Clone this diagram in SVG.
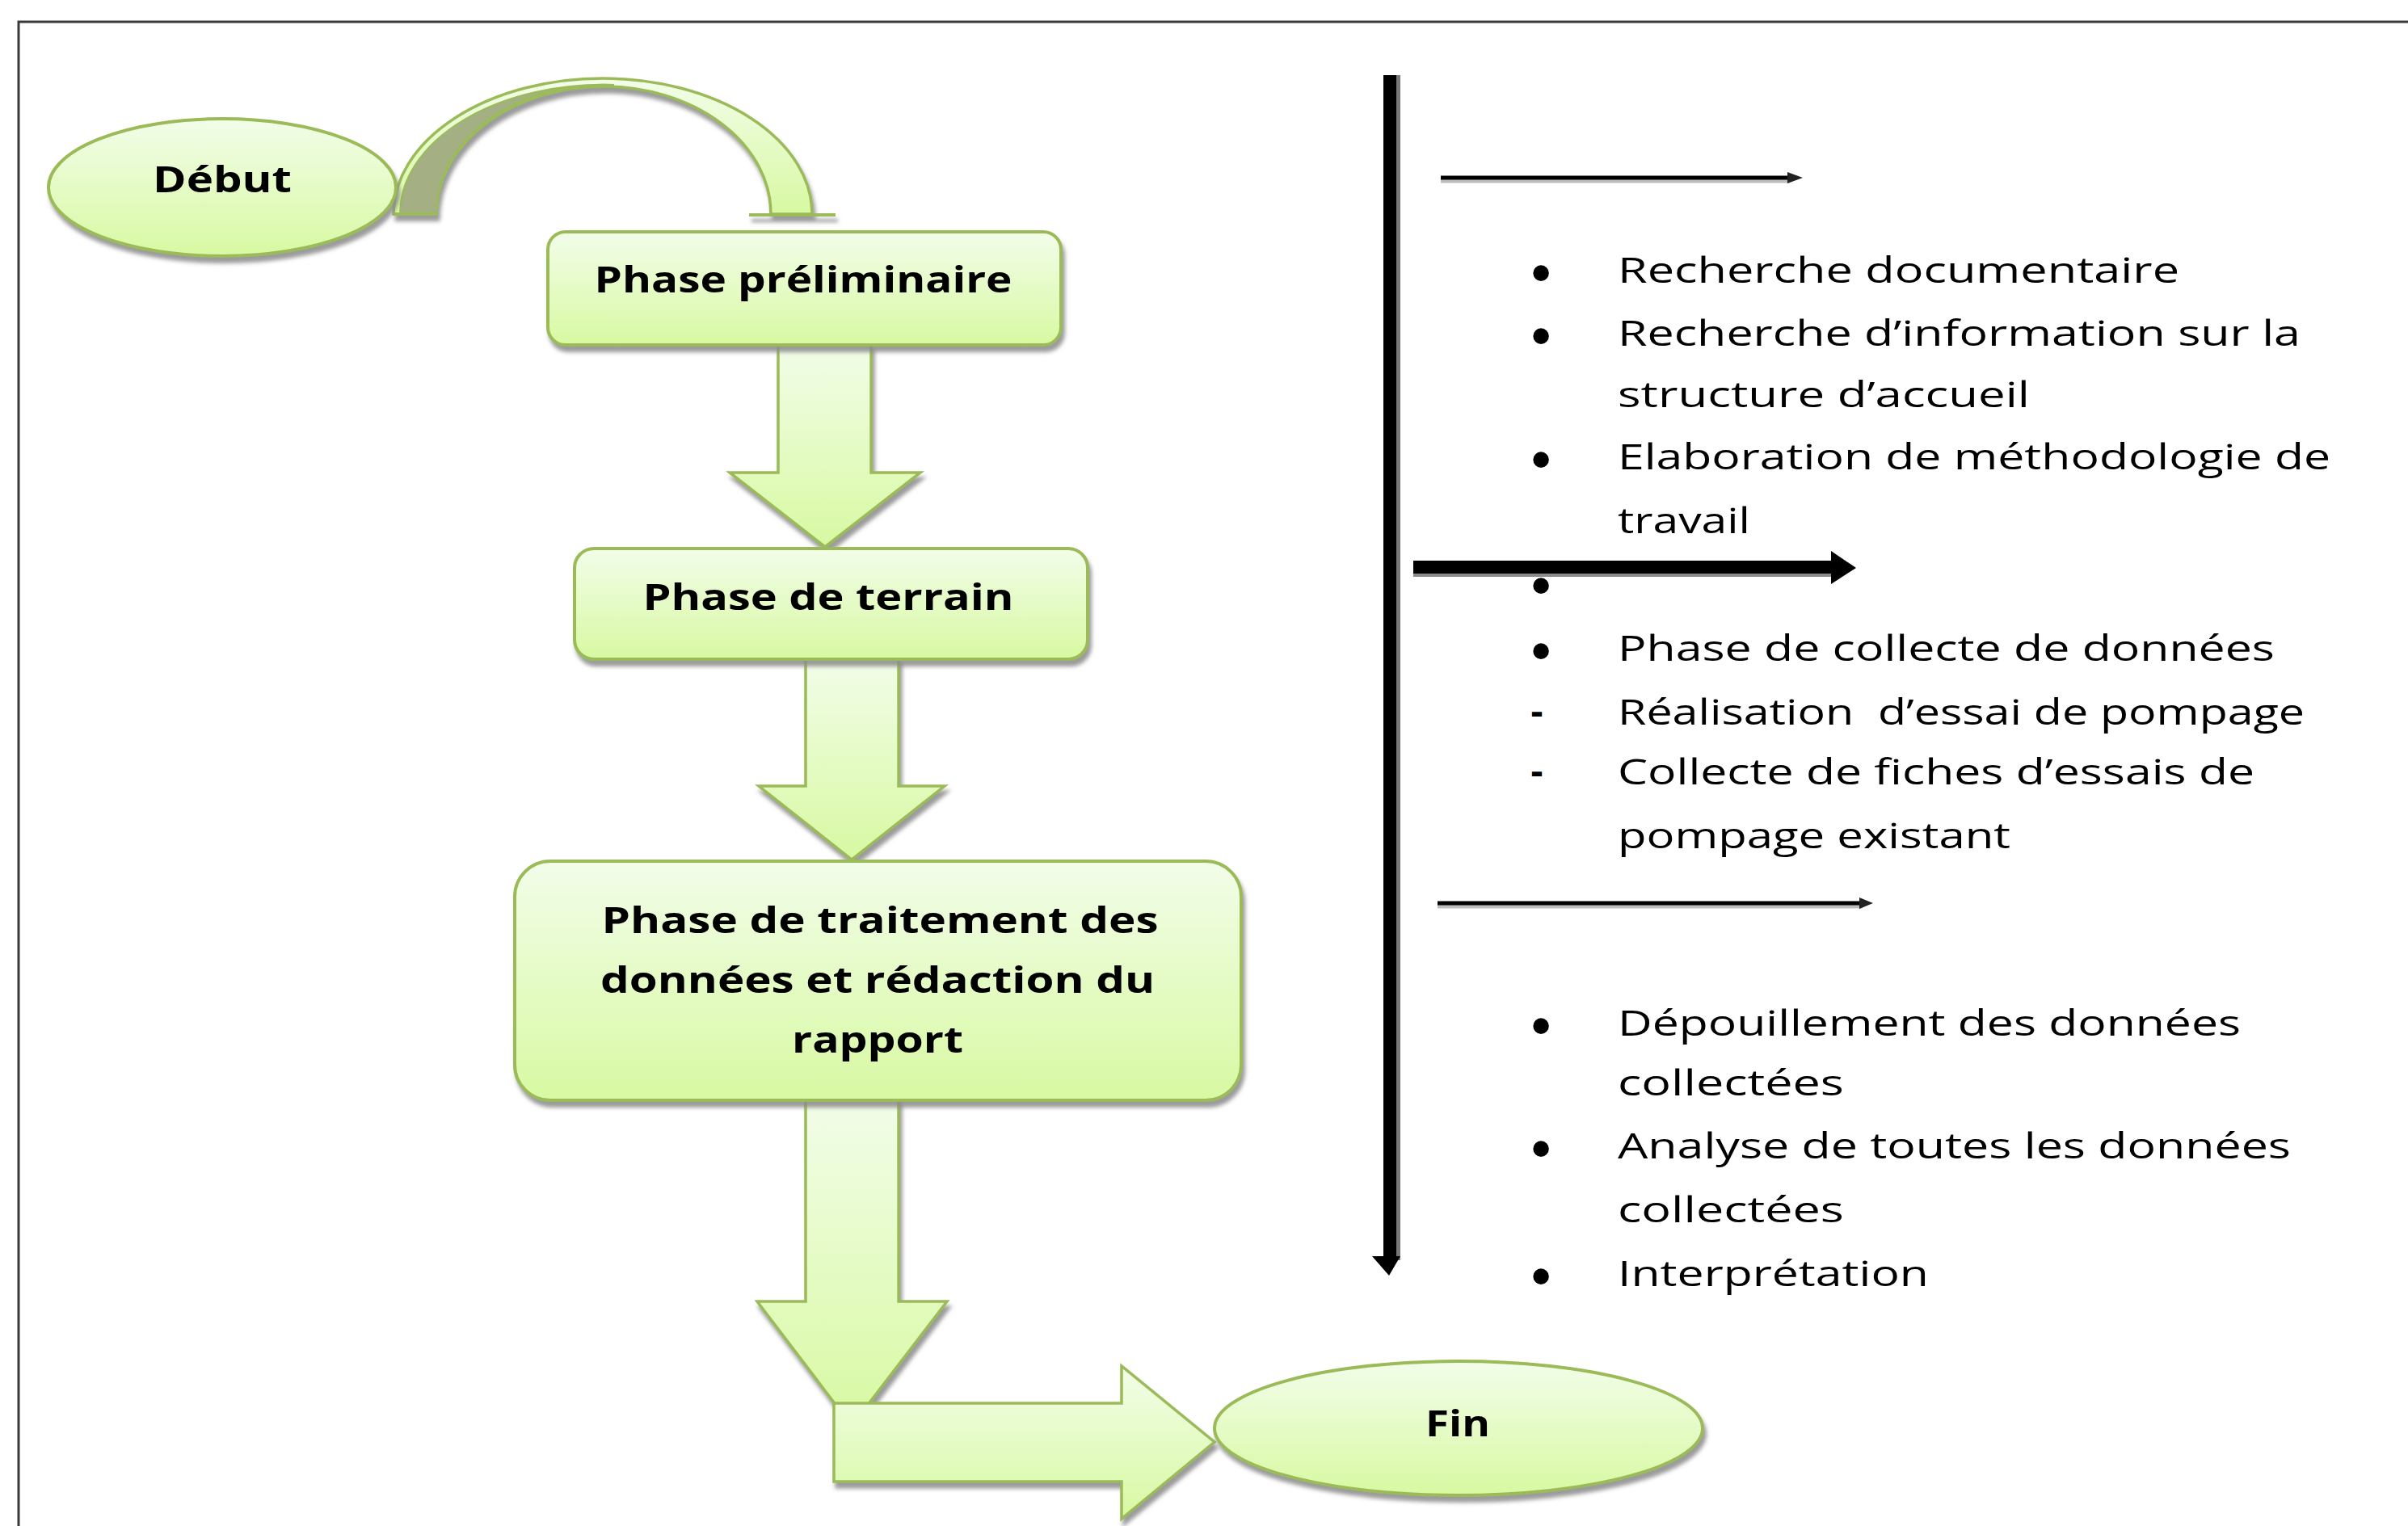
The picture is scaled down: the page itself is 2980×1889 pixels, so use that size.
<svg xmlns="http://www.w3.org/2000/svg" width="2980" height="1889" viewBox="0 0 2980 1889">
<defs>
<linearGradient id="gr" x1="0" y1="0" x2="0" y2="1">
<stop offset="0" stop-color="#f2fde9"/>
<stop offset="1" stop-color="#d8f9a2"/>
</linearGradient>
<filter id="sh" x="-10%" y="-10%" width="120%" height="130%">
<feDropShadow dx="3" dy="7" stdDeviation="2.5" flood-color="#8a8a8a" flood-opacity="0.85"/>
</filter>
</defs>
<style>
.g{fill:url(#gr);stroke:#9bbb59;stroke-width:4}
.ga{fill:url(#gr);stroke:#9bbb59;stroke-width:3.5}
.bt{font-family:"Open Sans","Liberation Sans",sans-serif;font-weight:700;font-size:45px;fill:#000;text-anchor:middle}
.lt{font-family:"Open Sans","Liberation Sans",sans-serif;font-weight:400;font-size:43px;fill:#000;white-space:pre}
.bu{font-family:"Liberation Sans",sans-serif;font-size:72px;fill:#000;text-anchor:middle}
.da{font-family:"Liberation Sans",sans-serif;font-weight:700;font-size:48px;fill:#000;text-anchor:middle}
.k{stroke:#000;fill:none}
</style>
<rect x="0" y="0" width="2980" height="1889" fill="#fff"/>
<path d="M23,1889 L23,27 L2980,27" fill="none" stroke="#3a3a3a" stroke-width="3"/>

<g id="connectors">
<g filter="url(#sh)">
<path class="ga" d="M963,426 L1078,426 L1078,585 L1139,585 L1021,677 L903,585 L963,585 Z"/>
<path class="ga" d="M997,814 L1112,814 L1112,973 L1169,973 L1054,1064 L939,973 L997,973 Z"/>
<path class="ga" d="M997,1359 L1112,1359 L1112,1611 L1172,1611 L1054,1765 L937,1611 L997,1611 Z"/>
<path class="ga" d="M1032,1737 L1388,1737 L1388,1691 L1503,1785 L1388,1880 L1388,1834 L1032,1834 Z"/>
</g>
<g id="arc" filter="url(#sh)">
<path class="ga" d="M487,265 A259,168 0 0 1 1005,265 L954,265 A207,158 0 0 0 540,265 Z"/>
<path d="M495,265 A252,160 0 0 1 760,105 A207,158 0 0 0 540,265 Z" fill="#a4b083" stroke="#9bbb59" stroke-width="2"/>
<line x1="487" y1="265" x2="540" y2="265" stroke="#9bbb59" stroke-width="4"/>
<line x1="927" y1="266" x2="1034" y2="266" stroke="#9bbb59" stroke-width="4"/>
</g>
<g id="timeline">
<line x1="1723" y1="93" x2="1723" y2="1560" stroke="#777" stroke-width="20"/>
<line x1="1720" y1="93" x2="1720" y2="1560" class="k" stroke-width="16"/>
<polygon points="1698,1555 1733,1555 1719,1579" fill="#000"/>
<line x1="1783" y1="223" x2="2215" y2="223" stroke="#bdbdbd" stroke-width="7"/>
<line x1="1783" y1="220" x2="2222" y2="220" class="k" stroke-width="5"/>
<polygon points="2212,213 2231,220 2212,227" fill="#222"/>
<line x1="1779" y1="1121" x2="2305" y2="1121" stroke="#bdbdbd" stroke-width="7"/>
<line x1="1779" y1="1118" x2="2310" y2="1118" class="k" stroke-width="5"/>
<polygon points="2301,1111 2318,1118 2301,1125" fill="#222"/>
</g>
</g>

<g id="debut" filter="url(#sh)">
<ellipse class="g" cx="275" cy="232" rx="215" ry="85"/>
<text class="bt" x="275" y="238" textLength="172" lengthAdjust="spacingAndGlyphs">Début</text>
</g>
<g id="phase-preliminaire">
<rect class="g" x="678" y="287" width="635" height="140" rx="22" filter="url(#sh)"/>
<text class="bt" x="994" y="362" textLength="517" lengthAdjust="spacingAndGlyphs">Phase préliminaire</text>
</g>
<g id="phase-terrain">
<rect class="g" x="711" y="679" width="635" height="137" rx="24" filter="url(#sh)"/>
<text class="bt" x="1025" y="755" textLength="459" lengthAdjust="spacingAndGlyphs">Phase de terrain</text>
</g>
<g id="phase-traitement">
<rect class="g" x="637" y="1066" width="899" height="296" rx="44" filter="url(#sh)"/>
<text class="bt" x="1089" y="1155" textLength="689" lengthAdjust="spacingAndGlyphs">Phase de traitement des</text>
<text class="bt" x="1086" y="1229" textLength="686" lengthAdjust="spacingAndGlyphs">données et rédaction du</text>
<text class="bt" x="1086" y="1303" textLength="212" lengthAdjust="spacingAndGlyphs">rapport</text>
</g>
<g id="fin">
<ellipse class="g" cx="1805" cy="1768" rx="302" ry="83" filter="url(#sh)"/>
<text class="bt" x="1804" y="1778" textLength="80" lengthAdjust="spacingAndGlyphs">Fin</text>
</g>

<g id="list-preliminaire">
<text class="bu" x="1907" y="362">•</text>
<text class="lt" x="2002" y="350" textLength="695" lengthAdjust="spacingAndGlyphs">Recherche documentaire</text>
<text class="bu" x="1907" y="440">•</text>
<text class="lt" x="2002" y="428" textLength="845" lengthAdjust="spacingAndGlyphs">Recherche d’information sur la</text>
<text class="lt" x="2002" y="504" textLength="510" lengthAdjust="spacingAndGlyphs">structure d’accueil</text>
<text class="bu" x="1907" y="593">•</text>
<text class="lt" x="2002" y="581" textLength="882" lengthAdjust="spacingAndGlyphs">Elaboration de méthodologie de</text>
<text class="lt" x="2002" y="660" textLength="164" lengthAdjust="spacingAndGlyphs">travail</text>
<text class="bu" x="1907" y="749">•</text>
</g>
<g id="thick-arrow">
<line x1="1749" y1="706" x2="2268" y2="706" stroke="#8a8a8a" stroke-width="16"/>
<line x1="1749" y1="702" x2="2270" y2="702" class="k" stroke-width="16"/>
<polygon points="2266,682 2297,703 2266,723" fill="#000"/>
</g>
<g id="list-terrain">
<text class="bu" x="1907" y="830">•</text>
<text class="lt" x="2002" y="818" textLength="813" lengthAdjust="spacingAndGlyphs">Phase de collecte de données</text>
<text class="da" x="1902" y="897">-</text>
<text class="lt" x="2002" y="897" textLength="850" lengthAdjust="spacingAndGlyphs">Réalisation  d’essai de pompage</text>
<text class="da" x="1902" y="971">-</text>
<text class="lt" x="2002" y="971" textLength="788" lengthAdjust="spacingAndGlyphs">Collecte de fiches d’essais de</text>
<text class="lt" x="2002" y="1050" textLength="486" lengthAdjust="spacingAndGlyphs">pompage existant</text>
</g>
<g id="list-traitement">
<text class="bu" x="1907" y="1294">•</text>
<text class="lt" x="2002" y="1282" textLength="771" lengthAdjust="spacingAndGlyphs">Dépouillement des données</text>
<text class="lt" x="2002" y="1356" textLength="280" lengthAdjust="spacingAndGlyphs">collectées</text>
<text class="bu" x="1907" y="1446">•</text>
<text class="lt" x="2002" y="1434" textLength="833" lengthAdjust="spacingAndGlyphs">Analyse de toutes les données</text>
<text class="lt" x="2002" y="1513" textLength="280" lengthAdjust="spacingAndGlyphs">collectées</text>
<text class="bu" x="1907" y="1604">•</text>
<text class="lt" x="2002" y="1592" textLength="385" lengthAdjust="spacingAndGlyphs">Interprétation</text>
</g>
</svg>
